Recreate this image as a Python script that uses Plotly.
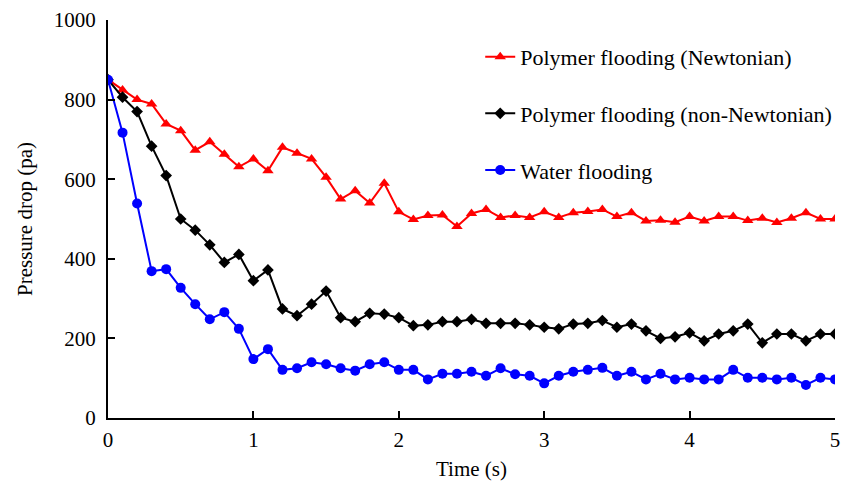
import plotly.graph_objects as go

# Time axis (s), sampled every 0.1 s
time_s = [round(i * 0.1, 1) for i in range(51)]

# Pressure drop (pa) for each flooding case
newtonian = [850, 824, 800, 789, 739, 722, 673, 694, 663, 631,
             651, 621, 680, 665, 651, 605, 550, 571, 540, 590,
             518, 499, 509, 510, 481, 514, 524, 504, 509, 504,
             518, 504, 516, 519, 524, 506, 516, 495, 497, 492,
             506, 495, 506, 506, 496, 502, 491, 502, 516, 500,
             500]
non_newtonian = [850, 806, 770, 683, 609, 500, 472, 435, 391, 411,
                 345, 372, 274, 257, 286, 319, 252, 242, 263, 261,
                 252, 232, 234, 242, 242, 248, 238, 238, 238, 234,
                 228, 224, 236, 238, 245, 228, 236, 219, 200, 204,
                 214, 194, 211, 219, 236, 189, 211, 211, 194, 211,
                 211]
water = [850, 717, 539, 369, 374, 327, 286, 248, 266, 224,
         148, 173, 121, 125, 140, 135, 125, 119, 135, 140,
         121, 121, 97, 111, 111, 116, 106, 125, 110, 106,
         87, 106, 116, 121, 126, 106, 116, 97, 111, 97,
         101, 97, 97, 121, 101, 101, 97, 101, 83, 101,
         97]

series_names = ["Polymer flooding (Newtonian)",
                "Polymer flooding (non-Newtonian)",
                "Water flooding"]
y_ticks = [0, 200, 400, 600, 800, 1000]
x_ticks = [0, 1, 2, 3, 4, 5]

FONT = "Times New Roman, Liberation Serif, serif"

fig = go.Figure()
fig.add_trace(go.Scatter(
    x=time_s, y=newtonian, name=series_names[0], mode="lines+markers",
    legendgroup="a",
    line=dict(color="#ff0000", width=2),
    marker=dict(symbol="triangle-up", size=10, color="#ff0000")))
fig.add_trace(go.Scatter(
    x=time_s, y=non_newtonian, name=series_names[1], mode="lines+markers",
    legendgroup="b",
    line=dict(color="#000000", width=2),
    marker=dict(symbol="diamond", size=9, color="#000000")))
fig.add_trace(go.Scatter(
    x=time_s, y=water, name=series_names[2], mode="lines+markers",
    legendgroup="c",
    line=dict(color="#0000ff", width=2),
    marker=dict(symbol="circle", size=10, color="#0000ff")))

axis_common = dict(
    showline=True, linecolor="black", linewidth=2,
    ticks="inside", ticklen=7, tickwidth=1.5, tickcolor="black",
    showgrid=False, zeroline=False, mirror=False, automargin=False,
    tickfont=dict(family=FONT, size=21, color="black"),
)

fig.update_xaxes(range=[0, 5], tickvals=x_ticks, ticklabelstandoff=2,
                 title=dict(text="Time (s)", font=dict(family=FONT, size=21, color="black"),
                            standoff=10),
                 **axis_common)
fig.update_yaxes(range=[0, 1000], tickvals=y_ticks, ticklabelstandoff=6,
                 title=dict(text="Pressure drop (pa)", font=dict(family=FONT, size=21, color="black"),
                            standoff=15),
                 **axis_common)

fig.update_layout(
    width=852, height=484,
    margin=dict(l=108, r=17, t=20, b=66),
    plot_bgcolor="white", paper_bgcolor="white",
    font=dict(family=FONT, color="black"),
    legend=dict(x=0.512, y=0.96, xanchor="left", yanchor="top",
                font=dict(family=FONT, size=22, color="black"),
                tracegroupgap=25, bgcolor="rgba(0,0,0,0)"),
)

fig.write_html("out.html")
